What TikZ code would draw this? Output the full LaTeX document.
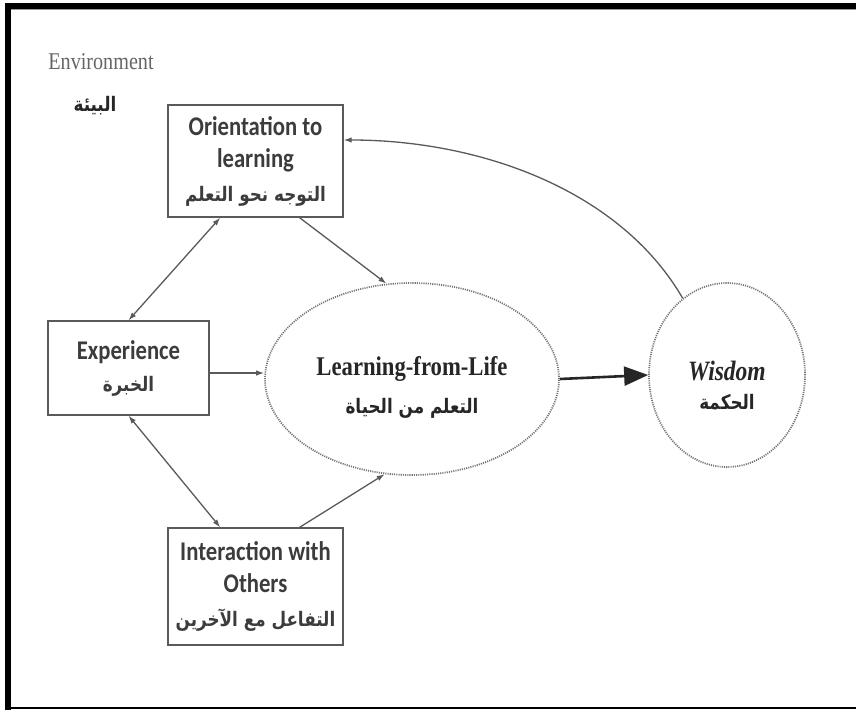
\documentclass[tikz,border=0pt]{standalone}
\usepackage{fontspec}
\usetikzlibrary{arrows.meta,calc,shapes.geometric}
\setmainfont{Liberation Serif}
\newfontfamily\boxfont{Carlito}
\newfontfamily\arabicfont[Script=Arabic]{DejaVu Sans}
\TeXXeTstate=1
% text in this figure is set slightly condensed
\newcommand\cond[1]{\scalebox{0.84}[1]{#1}}
\newcommand\ar[1]{\cond{\arabicfont\bfseries\fontsize{20}{22}\selectfont\beginR #1\endR}}
\definecolor{linegray}{HTML}{5A5A5A}
\definecolor{inkgray}{HTML}{3C3C3C}
\tikzset{
  boxnode/.style={draw=linegray, line width=1.3pt, rectangle, align=center,
    inner sep=0pt, text=inkgray, font=\boxfont\bfseries\fontsize{27}{32}\selectfont},
  dotnode/.style={draw=black!55, line width=1.7pt, dash pattern=on 1.1pt off 1.1pt,
    ellipse, inner sep=0pt, align=center, text=black!85},
  link/.style={draw=linegray, line width=1.3pt},
  tip/.tip={Latex[length=8pt,width=5.5pt]},
}
\begin{document}
\begin{tikzpicture}[x=1pt,y=-1pt]
\useasboundingbox (0,0) rectangle (856,710);
\fill[white] (0,0) rectangle (856,710);
% frame
\draw[line width=6pt] (8,710) -- (8,6) -- (856,6);
\draw[black!40, line width=0.8pt] (11,9.8) -- (856,9.8);
\draw[line width=2.4pt] (8,708) -- (856,708);

% environment label
\node[text=black!60, font=\fontsize{24}{26}\selectfont] (envlabel) at (101,62) {\cond{Environment}};
\node[text=black!85] (envar) at (95,106) {\ar{البيئة}};

% factor boxes
\node[boxnode, minimum width=175pt, minimum height=112pt] (orient) at (255.5,161)
  {\cond{Orientation to}\\\cond{learning}\\[2pt]\ar{التوجه نحو التعلم}};
\node[boxnode, minimum width=161pt, minimum height=94pt] (exp) at (128.5,368)
  {\cond{Experience}\\\ar{الخبرة}};
\node[boxnode, minimum width=175pt, minimum height=117pt] (inter) at (255.5,586.5)
  {\cond{Interaction with}\\\cond{Others}\\[2pt]\ar{التفاعل مع الآخرين}};

% central process and outcome
\node[dotnode, minimum width=294pt, minimum height=192pt] (learn) at (412,379)
  {\rule{0pt}{36pt}{\bfseries\fontsize{27}{30}\selectfont\cond{Learning-from-Life}}\\[15pt]\ar{التعلم من الحياة}};
\node[dotnode, minimum width=156pt, minimum height=184pt] (wis) at (727,375)
  {\rule{0pt}{40pt}{\bfseries\itshape\fontsize{28}{30}\selectfont\cond{Wisdom}}\\[12pt]\ar{الحكمة}};

% connectors
\draw[link, tip-tip] ($(orient.south west)!0.3!(orient.south east)$) -- (exp.north);
\draw[link, tip-tip] (exp.south) -- ($(inter.north west)!0.3!(inter.north east)$);
\draw[link, -tip] ($(orient.south west)!0.75!(orient.south east)$) -- (learn.105);
\draw[link, -tip] ($(inter.north west)!0.75!(inter.north east)$) -- (learn.254);
\coordinate (expout) at ([yshift=-5pt]exp.east);
\draw[link, -tip] (expout) -- (expout -| learn.west);
\draw[draw=black!85, line width=2.6pt, -{Triangle[length=24pt,width=19pt]}] (learn.east) -- (wis.west);
\draw[link, -tip] (wis.120) .. controls (620,190) and (480,140) .. ([yshift=21pt]orient.east);
\end{tikzpicture}
\end{document}
